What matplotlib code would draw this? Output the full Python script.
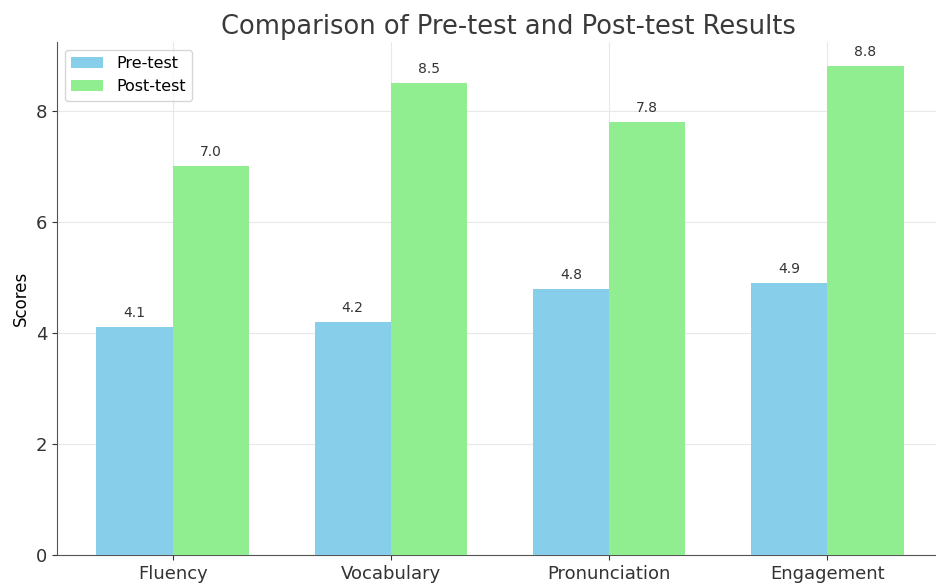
import numpy as np
import matplotlib
matplotlib.use("Agg")
import matplotlib.pyplot as plt

categories = ["Fluency", "Vocabulary", "Pronunciation", "Engagement"]
pre_test = [4.1, 4.2, 4.8, 4.9]
post_test = [7.0, 8.5, 7.8, 8.8]

fig = plt.figure(figsize=(9.37, 5.85), dpi=100)
ax = fig.add_axes([57 / 937, 30 / 585, 886 / 937, 513 / 585])

x = np.arange(len(categories))
width = 0.35
b1 = ax.bar(x - width / 2, pre_test, width, color="#87ceeb", label="Pre-test", zorder=3)
b2 = ax.bar(x + width / 2, post_test, width, color="#90ee90", label="Post-test", zorder=3)

for bars in (b1, b2):
    for bar in bars:
        h = bar.get_height()
        ax.annotate(f"{h:.1f}", (bar.get_x() + bar.get_width() / 2, h),
                    xytext=(0, 5), textcoords="offset points",
                    ha="center", va="bottom", fontsize=10, color="#333333")

ax.set_xlim(-0.53, 3.53)
ax.set_xticks(x)
ax.set_xticklabels(categories, fontsize=13)
ax.tick_params(axis="y", labelsize=13)
ax.set_ylabel("Scores", fontsize=12)
ax.set_title("Comparison of Pre-test and Post-test Results", fontsize=18.5,
             color="#3a3a3a", x=0.51)
ax.grid(True, color="#e8e8e8", linewidth=0.8, zorder=0)
for s in ("top", "right"):
    ax.spines[s].set_visible(False)
for s in ("left", "bottom"):
    ax.spines[s].set_color("#555555")
ax.tick_params(colors="#333333")
ax.legend(loc="upper left", fontsize=11.5)

fig.savefig("out.png", dpi=100)
